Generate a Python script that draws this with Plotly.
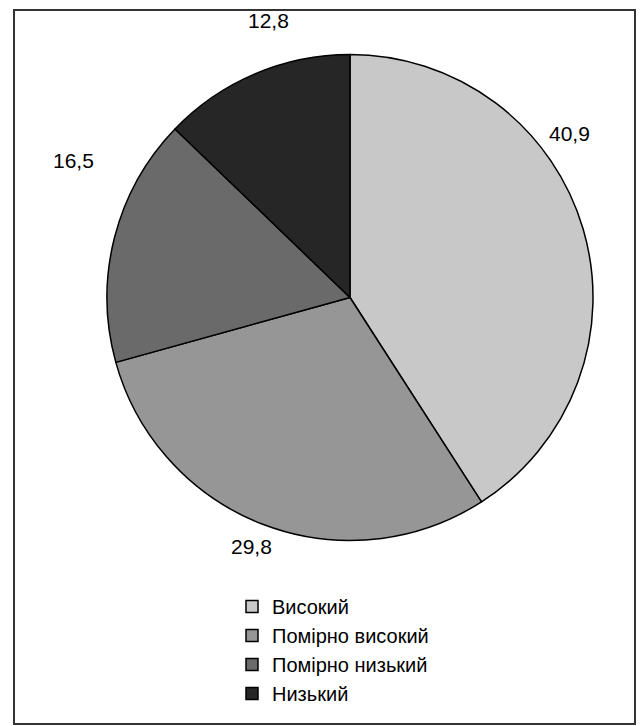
import plotly.graph_objects as go

categories = ["Високий", "Помірно високий", "Помірно низький", "Низький"]
values = [40.9, 29.8, 16.5, 12.8]
value_labels = ["40,9", "29,8", "16,5", "12,8"]
colors = ["#c8c8c8", "#969696", "#6a6a6a", "#262626"]

W, H = 640, 726
CX, CY, R = 350, 297.5, 243
# label centre positions (pixels) in the layout, Excel-style placement
label_xy = [(569, 134), (251, 546), (73, 161), (268, 20)]

fig = go.Figure(go.Pie(
    labels=categories,
    values=values,
    sort=False,
    direction="clockwise",
    rotation=0,
    marker=dict(colors=colors, line=dict(color="#000000", width=1.5)),
    textinfo="none",
    hoverinfo="label+value",
    domain=dict(x=[(CX - R) / W, (CX + R) / W], y=[1 - (CY + R) / H, 1 - (CY - R) / H]),
    showlegend=True,
))

annotations = []
for txt, (px, py) in zip(value_labels, label_xy):
    annotations.append(dict(
        x=px / W, y=1 - py / H, xref="paper", yref="paper",
        text=txt, showarrow=False, xanchor="center", yanchor="middle",
        font=dict(family="Liberation Sans, Arial", size=21, color="#000000"),
    ))

fig.update_layout(
    width=W, height=H,
    margin=dict(l=0, r=0, t=0, b=0),
    paper_bgcolor="#ffffff",
    plot_bgcolor="#ffffff",
    font=dict(family="Liberation Sans, Arial", size=20, color="#000000"),
    legend=dict(
        x=232 / W, y=1 - 587 / H, xanchor="left", yanchor="top",
        bgcolor="rgba(0,0,0,0)", tracegroupgap=0,
        font=dict(family="Liberation Sans, Arial", size=20, color="#000000"),
        itemclick=False, itemdoubleclick=False,
    ),
    annotations=annotations,
    shapes=[dict(type="rect", xref="paper", yref="paper",
                 x0=14 / W, x1=635 / W, y0=1 - 724 / H, y1=1 - 10 / H,
                 line=dict(color="#333333", width=2))],
)

fig.write_html("out.html")
